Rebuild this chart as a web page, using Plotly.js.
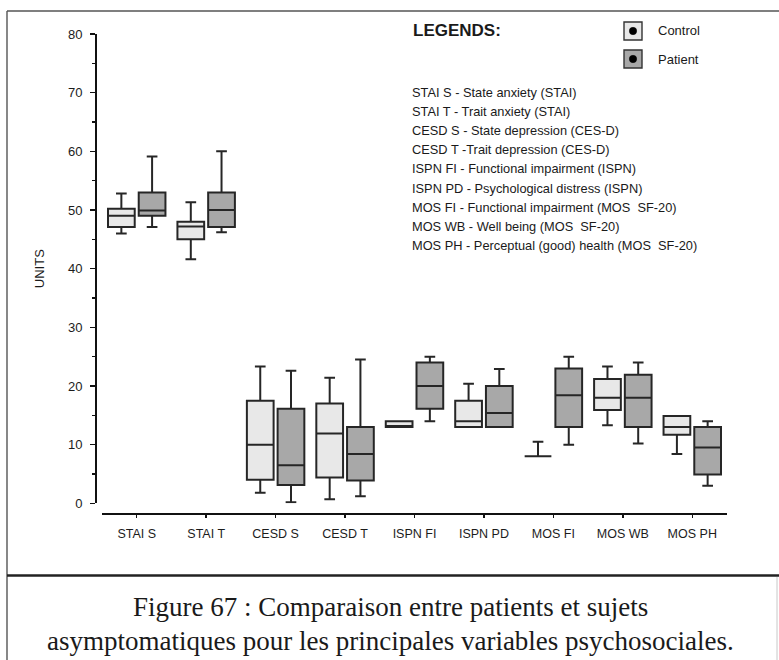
<!DOCTYPE html>
<html>
<head>
<meta charset="utf-8">
<script src="https://cdn.plot.ly/plotly-3.0.1.min.js"></script>
<style>html,body{margin:0;padding:0;background:#fff;}#chart{width:779px;height:660px;}</style>
</head>
<body>
<div id="chart"></div>
<script>
const categories = ['STAI S','STAI T','CESD S','CESD T','ISPN FI','ISPN PD','MOS FI','MOS WB','MOS PH'];

const controlLower  = [46.0, 41.6, 1.8, 0.7, 13.0, 13.0, 8.0, 13.3, 8.4];
const controlQ1     = [47.1, 45.0, 4.0, 4.4, 13.0, 13.0, 8.0, 15.9, 11.7];
const controlMedian = [49.0, 47.2, 10.0, 11.9, 13.0, 14.0, 8.0, 18.0, 13.0];
const controlQ3     = [50.2, 48.0, 17.5, 17.0, 14.0, 17.5, 8.0, 21.2, 14.9];
const controlUpper  = [52.8, 51.3, 23.3, 21.4, 14.0, 20.4, 10.5, 23.3, 14.9];

const patientLower  = [47.1, 46.2, 0.2, 1.2, 14.0, 13.0, 10.0, 10.2, 3.0];
const patientQ1     = [49.0, 47.1, 3.1, 3.9, 16.1, 13.0, 13.0, 13.0, 4.9];
const patientMedian = [49.9, 50.0, 6.5, 8.4, 20.0, 15.4, 18.4, 18.0, 9.5];
const patientQ3     = [53.0, 53.0, 16.1, 13.0, 24.0, 20.0, 23.0, 21.9, 13.0];
const patientUpper  = [59.1, 60.0, 22.6, 24.5, 25.0, 22.9, 25.0, 24.0, 14.0];

const seriesNames = ['Control', 'Patient'];
const yTickVals = [0, 10, 20, 30, 40, 50, 60, 70, 80];

const legendTitle = 'LEGENDS:';
const legendLines = [
  'STAI S - State anxiety (STAI)',
  'STAI T - Trait anxiety (STAI)',
  'CESD S - State depression (CES-D)',
  'CESD T -Trait depression (CES-D)',
  'ISPN FI - Functional impairment (ISPN)',
  'ISPN PD - Psychological distress (ISPN)',
  'MOS FI - Functional impairment (MOS  SF-20)',
  'MOS WB - Well being (MOS  SF-20)',
  'MOS PH - Perceptual (good) health (MOS  SF-20)'
];
const captionLines = [
  'Figure 67 : Comparaison entre patients et sujets',
  'asymptomatiques pour les principales variables psychosociales.'
];

// layout geometry (pixels)
const W = 779, H = 660;
const L = 96, R = 52, T = 34, B = 146;
const PW = W - L - R, PH = H - T - B;
const px = x => (x - L) / PW;
const py = y => (H - B - y) / PH;

const fillColors = ['#e8e8e8', '#a8a8a8'];
const lineColor = '#262626';

const traces = [
  {type:'box', name:seriesNames[0], x:categories, q1:controlQ1, median:controlMedian, q3:controlQ3,
   lowerfence:controlLower, upperfence:controlUpper, fillcolor:fillColors[0],
   line:{color:lineColor, width:2}, whiskerwidth:0.4, boxpoints:false, showlegend:false, hoverinfo:'skip'},
  {type:'box', name:seriesNames[1], x:categories, q1:patientQ1, median:patientMedian, q3:patientQ3,
   lowerfence:patientLower, upperfence:patientUpper, fillcolor:fillColors[1],
   line:{color:lineColor, width:2}, whiskerwidth:0.4, boxpoints:false, showlegend:false, hoverinfo:'skip'}
];

const sans = 'Liberation Sans, Arial, sans-serif';
const serif = 'Liberation Serif, Times New Roman, serif';

const annotations = [];
annotations.push({xref:'paper', yref:'paper', x:px(411), y:py(30), xanchor:'left', yanchor:'middle',
  text:'<b>'+legendTitle+'</b>', showarrow:false, font:{family:'Liberation Sans Narrow, Arial Narrow, '+sans, size:17, color:'#1a1a1a'}});
const legendY = [92, 111.2, 130.4, 149.6, 168.8, 188, 207.2, 226.4, 245.6];
legendLines.forEach((t, i) => {
  annotations.push({xref:'paper', yref:'paper', x:px(410), y:py(legendY[i]), xanchor:'left', yanchor:'middle',
    text:t, showarrow:false, font:{family:sans, size:12.8, color:'#1a1a1a'}});
});
const keyY = [31, 59];
seriesNames.forEach((n, i) => {
  annotations.push({xref:'paper', yref:'paper', x:px(656), y:py(keyY[i]), xanchor:'left', yanchor:'middle',
    text:n, showarrow:false, font:{family:sans, size:13, color:'#1a1a1a'}});
});
const captionY = [607, 641];
captionLines.forEach((t, i) => {
  annotations.push({xref:'paper', yref:'paper', x:px(390), y:py(captionY[i]), xanchor:'center', yanchor:'middle',
    text:t, showarrow:false, font:{family:serif, size:27, color:'#1a1a1a'}});
});

const shapes = [];
// frame lines
shapes.push({type:'line', xref:'paper', yref:'paper', x0:px(7), x1:px(800), y0:py(11), y1:py(11), line:{color:'#555', width:1.6}});
shapes.push({type:'line', xref:'paper', yref:'paper', x0:px(7), x1:px(7), y0:py(11), y1:py(670), line:{color:'#555', width:1.4}});
shapes.push({type:'line', xref:'paper', yref:'paper', x0:px(7), x1:px(800), y0:py(575.5), y1:py(575.5), line:{color:'#222', width:2.6}});
shapes.push({type:'line', xref:'paper', yref:'paper', x0:px(777), x1:px(777), y0:py(577), y1:py(670), line:{color:'#c8c8c8', width:1}});
// legend keys
keyY.forEach((yy, i) => {
  shapes.push({type:'rect', xref:'paper', yref:'paper', x0:px(624), x1:px(642), y0:py(yy-9), y1:py(yy+9),
    fillcolor:fillColors[i], line:{color:'#333', width:1.4}});
  shapes.push({type:'circle', xref:'paper', yref:'paper', x0:px(629.3), x1:px(636.7), y0:py(yy-3.7), y1:py(yy+3.7),
    fillcolor:'#000', line:{color:'#000', width:0.5}});
});

const layout = {
  width:W, height:H,
  margin:{l:L, r:R, t:T, b:B, pad:0},
  paper_bgcolor:'#fff', plot_bgcolor:'#fff',
  boxmode:'group', boxgap:0.115, boxgroupgap:0.13,
  showlegend:false,
  xaxis:{
    type:'category', categoryorder:'array', categoryarray:categories,
    range:[-0.5, 8.5], domain:[px(102), 1], anchor:'free', position:0,
    showline:true, linecolor:'#111', linewidth:2, showgrid:false, zeroline:false,
    ticks:'outside', ticklen:3, tickwidth:1.5, tickcolor:'#111',
    tickfont:{family:sans, size:12.5, color:'#1c1c1c'}, ticklabelstandoff:5
  },
  yaxis:{
    range:[0, 80], domain:[py(503.3), 1], anchor:'free', position:0,
    tickvals:yTickVals, ticktext:yTickVals.map(String),
    showline:true, linecolor:'#111', linewidth:2, showgrid:false, zeroline:false,
    ticks:'outside', ticklen:5, tickwidth:1.5, tickcolor:'#111',
    minor:{dtick:5, ticks:'outside', ticklen:3, tickwidth:1.5, tickcolor:'#111', showgrid:false},
    tickfont:{family:sans, size:13, color:'#1c1c1c'}, ticklabelstandoff:5,
    title:{text:'UNITS', font:{family:sans, size:13, color:'#1c1c1c'}, standoff:19}
  },
  annotations:annotations,
  shapes:shapes
};

Plotly.newPlot('chart', traces, layout, {staticPlot:true, displayModeBar:false});
</script>
</body>
</html>
